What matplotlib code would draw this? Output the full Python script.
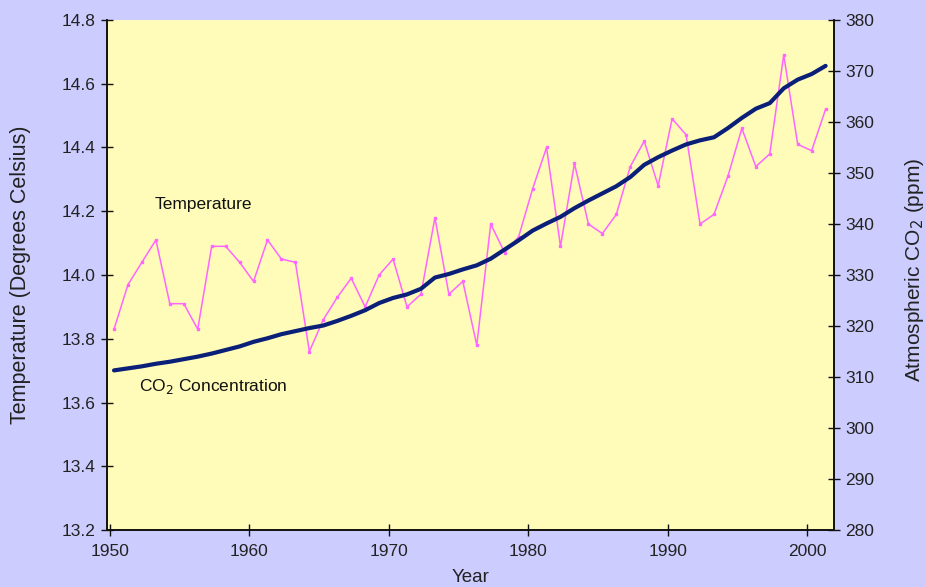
import numpy as np
import matplotlib
matplotlib.use("Agg")
import matplotlib.pyplot as plt

plt.rcParams["font.family"] = ["Liberation Sans", "DejaVu Sans"]

# --- data ---
years = list(range(1950, 2002))
temperature = [
    13.83, 13.97, 14.04, 14.11, 13.91, 13.91, 13.83, 14.09, 14.09, 14.04,
    13.98, 14.11, 14.05, 14.04, 13.76, 13.86, 13.93, 13.99, 13.90, 14.00,
    14.05, 13.90, 13.94, 14.18, 13.94, 13.98, 13.78, 14.16, 14.07, 14.12,
    14.27, 14.40, 14.09, 14.35, 14.16, 14.13, 14.19, 14.34, 14.42, 14.28,
    14.49, 14.44, 14.16, 14.19, 14.31, 14.46, 14.34, 14.38, 14.69, 14.41,
    14.39, 14.52,
]
co2 = [
    311.3, 311.7, 312.1, 312.6, 313.0, 313.5, 314.0, 314.6, 315.3, 316.0,
    316.9, 317.6, 318.4, 319.0, 319.6, 320.1, 321.0, 322.0, 323.1, 324.5,
    325.5, 326.2, 327.3, 329.5, 330.2, 331.1, 331.9, 333.2, 335.0, 336.8,
    338.7, 340.1, 341.4, 343.1, 344.6, 346.0, 347.4, 349.2, 351.6, 353.1,
    354.4, 355.6, 356.4, 357.0, 358.8, 360.8, 362.6, 363.7, 366.6, 368.3,
    369.4, 371.0,
]
temp_ticks = [13.2, 13.4, 13.6, 13.8, 14.0, 14.2, 14.4, 14.6, 14.8]
co2_ticks = list(range(280, 381, 10))
year_ticks = [1950, 1960, 1970, 1980, 1990, 2000]

BG = "#ccccff"
PLOT_BG = "#fffcb9"
TEMP_C = "#ff66ff"
CO2_C = "#0a1f78"
TXT = "#222222"

fig = plt.figure(figsize=(9.26, 5.87), dpi=100, facecolor=BG)
ax = fig.add_axes([0.1156, 0.097, 0.785, 0.869])
ax.set_facecolor(PLOT_BG)

# yearly points sit a little right of the year ticks in the original
x_pos = [y + 0.3 for y in years]

ax.plot(x_pos, temperature, color=TEMP_C, lw=1.1, marker="s", ms=1.6,
        mec=TEMP_C, mfc=TEMP_C, zorder=3)
ax.set_xlim(1949.8, 2001.9)
ax.set_ylim(13.2, 14.8)
ax.set_yticks(temp_ticks)
ax.set_yticklabels([f"{t:.1f}" for t in temp_ticks])
ax.set_xticks(year_ticks)

ax2 = ax.twinx()
ax2.plot(x_pos, co2, color=CO2_C, lw=3.0, zorder=4, solid_capstyle="round")
ax2.set_ylim(280, 380)
ax2.set_yticks(co2_ticks)

for a in (ax, ax2):
    a.spines["top"].set_visible(False)
    for s in ("left", "right", "bottom"):
        a.spines[s].set_color("#111111")
        a.spines[s].set_linewidth(1.2)
    a.tick_params(direction="inout", length=8, width=1.0, colors="#111111",
                  labelcolor=TXT, labelsize=12.5)
ax.tick_params(axis="x", pad=6)
ax.tick_params(axis="y", pad=4)
ax2.tick_params(axis="y", pad=4)

ax.set_xlabel("Year", fontsize=13.5, color=TXT, labelpad=7)
ax.set_ylabel("Temperature (Degrees Celsius)", fontsize=15.5, color=TXT)
ax.yaxis.set_label_coords(-0.105, 0.5)
ax2.set_ylabel("Atmospheric CO$_2$ (ppm)", fontsize=15, color=TXT)
ax2.yaxis.set_label_coords(1.095, 0.51)

ax.text(1953.2, 14.22, "Temperature", fontsize=12.5, color="#111111",
        va="center", ha="left")
ax.text(1952.1, 13.65, "CO$_2$ Concentration", fontsize=12.5, color="#111111",
        va="center", ha="left")

fig.savefig("out.png", dpi=100, facecolor=BG)
